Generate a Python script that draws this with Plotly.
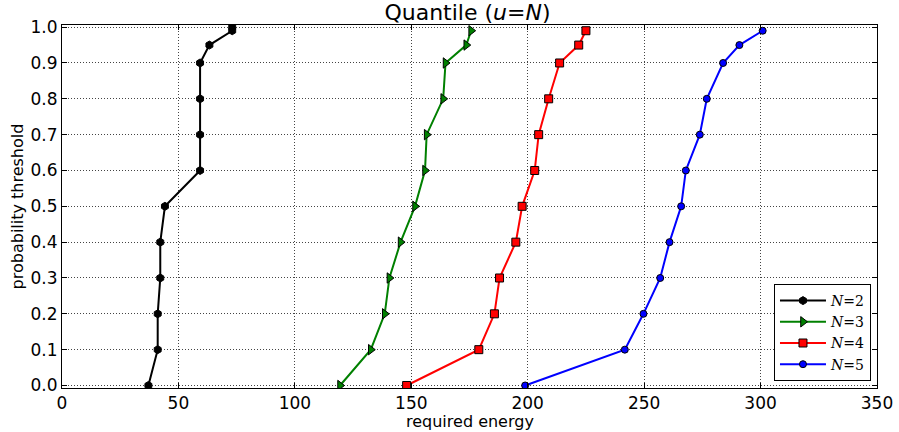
import plotly.graph_objects as go

probs = [0.0, 0.1, 0.2, 0.3, 0.4, 0.5, 0.6, 0.7, 0.8, 0.9, 0.95, 0.99]
probs_n2 = probs + [1.0]
energy_n2 = [37.1, 41.1, 41.1, 42.2, 42.2, 44.2, 59.3, 59.3, 59.3, 59.3, 63.3, 73.1, 73.1]
energy_n3 = [119.4, 132.6, 138.6, 140.6, 145.4, 151.6, 155.9, 156.6, 163.7, 164.7, 173.6, 175.7]
energy_n4 = [148.0, 179.0, 185.7, 187.9, 194.9, 197.6, 203.0, 204.7, 209.0, 213.7, 221.9, 225.0]
energy_n5 = [198.9, 241.7, 249.7, 256.9, 260.9, 265.9, 267.9, 273.9, 276.9, 283.9, 290.9, 300.9]

x_ticks = [0, 50, 100, 150, 200, 250, 300, 350]
y_ticks = [0.0, 0.1, 0.2, 0.3, 0.4, 0.5, 0.6, 0.7, 0.8, 0.9, 1.0]

series = [
    ("<i>N</i>=2", energy_n2, probs_n2, "black", "hexagon", 8),
    ("<i>N</i>=3", energy_n3, probs, "green", "triangle-right", 9),
    ("<i>N</i>=4", energy_n4, probs, "red", "square", 8),
    ("<i>N</i>=5", energy_n5, probs, "blue", "circle", 7),
]

fig = go.Figure()
for name, xs, ys, color, sym, sz in series:
    fig.add_trace(go.Scatter(
        x=xs, y=ys, name=name, mode="lines+markers",
        line=dict(color=color, width=2),
        marker=dict(symbol=sym, size=sz, color=color, line=dict(color="black", width=1)),
    ))

axis_common = dict(
    showline=True, linecolor="black", linewidth=1, mirror="allticks",
    ticks="inside", ticklen=5, tickcolor="black",
    showgrid=True, gridcolor="#444", griddash="1px,2px", gridwidth=1,
    zeroline=False, tickfont=dict(size=17, color="black"),
    automargin=False,
)

fig.update_layout(
    width=899, height=432,
    margin=dict(l=62, r=22, t=25, b=44),
    paper_bgcolor="white", plot_bgcolor="white",
    font=dict(family="DejaVu Sans", color="black"),
    title=dict(text="Quantile (<i>u</i>=<i>N</i>)", x=0.52, xanchor="center",
               y=0.972, yanchor="middle", font=dict(size=22)),
    xaxis=dict(range=[0, 350], tickvals=x_ticks, **axis_common),
    yaxis=dict(range=[-0.007, 1.006], tickvals=y_ticks, tickformat=".1f",
               title=dict(text="probability threshold", font=dict(size=16), standoff=2),
               **axis_common),
    legend=dict(x=0.8736, y=0.2865, xanchor="left", yanchor="top",
                bordercolor="black", borderwidth=1, bgcolor="white",
                font=dict(size=14, family="DejaVu Serif"), tracegroupgap=0,
                itemwidth=46),
    showlegend=True,
    annotations=[dict(text="required energy", xref="paper", yref="paper",
                      x=0.5, y=-0.093, xanchor="center", yanchor="middle",
                      showarrow=False, font=dict(size=16))],
)

fig.write_html("out.html", config={"displayModeBar": False},
               post_script="document.body.style.margin='0';")
